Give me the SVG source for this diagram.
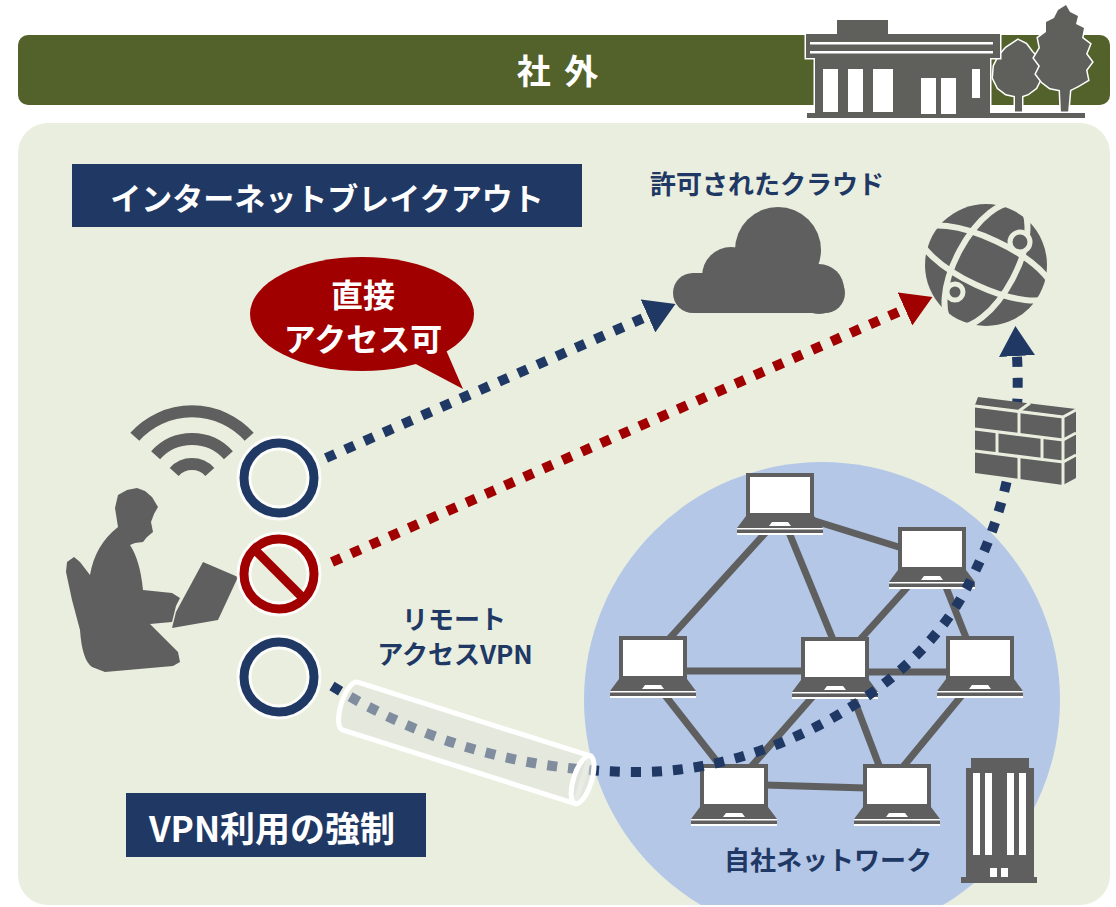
<svg xmlns="http://www.w3.org/2000/svg" xmlns:xlink="http://www.w3.org/1999/xlink" width="1116" height="907" viewBox="0 0 1116 907">
  <style>
    .jp { font-family: "Noto Sans CJK JP", "Noto Sans", sans-serif; font-weight: 700; dominant-baseline: central; text-anchor: middle; }
    .white { fill: #ffffff; }
    .navy { fill: #203864; }
    .icon { fill: #5f5f5f; }
    .net { stroke: #5f5f5f; stroke-width: 7; fill: none; }
    .dash { fill: none; stroke-width: 10; stroke-dasharray: 10 11; }
    .bgline { fill: none; stroke: #eaeedf; }
    .halo { fill: none; stroke: #ffffff; stroke-width: 15; stroke-opacity: 0.85; }
  </style>
  <defs>
    <clipPath id="panelClip">
      <rect x="18" y="123" width="1092" height="782" rx="30"/>
    </clipPath>
    <marker id="headNavy" markerUnits="userSpaceOnUse" viewBox="0 0 30 36" refX="0" refY="18" markerWidth="30" markerHeight="36" orient="auto">
      <path d="M0,0 L30,18 L0,36 Z" fill="#1f3864"/>
    </marker>
    <marker id="headRed" markerUnits="userSpaceOnUse" viewBox="0 0 30 36" refX="0" refY="18" markerWidth="30" markerHeight="36" orient="auto">
      <path d="M0,0 L30,18 L0,36 Z" fill="#a00000"/>
    </marker>
    <g id="laptop">
      <rect x="0" y="0" width="68" height="44" fill="#5f5f5f"/>
      <rect x="4" y="4" width="60" height="36" fill="#ffffff"/>
      <polygon points="0,43 68,43 77,55 -9,55" fill="#5f5f5f"/>
      <polygon points="26,49 42,49 45,53 23,53" fill="#ffffff"/>
      <rect x="-9" y="55" width="86" height="7" fill="#ffffff"/>
      <rect x="-9" y="56.5" width="86" height="3.5" fill="#5f5f5f"/>
    </g>
  </defs>

  <!-- header band -->
  <g id="header">
    <rect x="18" y="35" width="1092" height="70" rx="10" fill="#52622a"/>
    <text class="jp white" x="559" y="69" font-size="34" letter-spacing="3">社 外</text>
  </g>

  <!-- office building with trees -->
  <g id="office" fill="#5f605b" stroke="#ffffff" stroke-width="3" paint-order="stroke">
    <path d="M1018 40 L1026 44 L1032 52 L1038 58 L1042 68 L1040 80 L1036 88 L1028 94 L1022 96 L1022 113 L1015 113 L1015 96 L1006 94 L998 88 L993 78 L994 66 L999 56 L1006 48 Z"/>
    <path d="M1066 5 L1070 12 L1078 16 L1076 24 L1084 28 L1082 38 L1090 44 L1086 54 L1092 62 L1086 70 L1088 80 L1078 86 L1070 90 L1068 113 L1061 113 L1060 90 L1050 88 L1042 82 L1036 74 L1040 66 L1034 58 L1040 48 L1038 38 L1046 32 L1046 22 L1054 18 L1058 10 Z"/>
    <path d="M837 20 H888 V34 H1000 V58 H990 V113 H1085 V118 H807 V113 H815 V58 H806 V34 H837 Z"/>
  </g>
  <g fill="#ffffff">
    <rect x="810" y="42" width="183" height="2.5"/>
    <rect x="810" y="51" width="183" height="2.5"/>
    <rect x="823" y="69" width="15" height="43"/>
    <rect x="848" y="69" width="15" height="43"/>
    <rect x="873" y="69" width="20" height="43"/>
    <rect x="921" y="78" width="15" height="36"/>
    <rect x="941" y="78" width="15" height="36"/>
    <rect x="972" y="69" width="8" height="29"/>
  </g>

  <!-- main panel -->
  <rect id="panel" x="18" y="123" width="1092" height="782" rx="30" fill="#eaeedf"/>

  <!-- company network area -->
  <g id="company-network">
    <circle cx="822" cy="700" r="238" fill="#b4c7e7" clip-path="url(#panelClip)"/>
  </g>

  <!-- building beside the network -->
  <g id="hq" fill="#5f5f5f">
    <rect x="971" y="758" width="58" height="11"/>
    <rect x="966" y="768" width="68" height="110"/>
    <rect x="961" y="877" width="76" height="6"/>
    <g fill="#ffffff">
      <rect x="973" y="773" width="7" height="82"/>
      <rect x="985" y="773" width="7" height="82"/>
      <rect x="1007" y="773" width="7" height="82"/>
      <rect x="1019" y="773" width="7" height="82"/>
      <rect x="990" y="868" width="7" height="9"/>
      <rect x="1001" y="868" width="7" height="9"/>
    </g>
  </g>

  <!-- links between the PCs -->
  <g id="lan-links" class="net">
    <line x1="812" y1="520" x2="905" y2="549"/>
    <line x1="768" y1="530" x2="668" y2="640"/>
    <line x1="788" y1="530" x2="834" y2="642"/>
    <line x1="912" y1="582" x2="858" y2="642"/>
    <line x1="944" y1="582" x2="967" y2="640"/>
    <line x1="685" y1="671" x2="805" y2="671"/>
    <line x1="865" y1="672" x2="950" y2="672"/>
    <line x1="664" y1="694" x2="722" y2="768"/>
    <line x1="815" y1="694" x2="750" y2="768"/>
    <line x1="852" y1="694" x2="880" y2="768"/>
    <line x1="963" y1="694" x2="902" y2="768"/>
    <line x1="765" y1="785" x2="866" y2="788"/>
  </g>

  <g id="pc-1"><use xlink:href="#laptop" x="746" y="473"/></g>
  <g id="pc-2"><use xlink:href="#laptop" x="898" y="527"/></g>
  <g id="pc-3"><use xlink:href="#laptop" x="619" y="636"/></g>
  <g id="pc-4"><use xlink:href="#laptop" x="801" y="637"/></g>
  <g id="pc-5"><use xlink:href="#laptop" x="946" y="636"/></g>
  <g id="pc-6"><use xlink:href="#laptop" x="700" y="764"/></g>
  <g id="pc-7"><use xlink:href="#laptop" x="863" y="764"/></g>

  <!-- labels -->
  <g id="label-breakout">
    <rect x="72" y="164" width="510" height="63" fill="#203864"/>
    <text class="jp white" x="327" y="196" font-size="31">インターネットブレイクアウト</text>
  </g>
  <g id="label-vpn">
    <rect x="126" y="793" width="300" height="64" fill="#203864"/>
    <text class="jp white" x="272" y="826" font-size="35">VPN利用の強制</text>
  </g>
  <text class="jp navy" x="767" y="182" font-size="26">許可されたクラウド</text>
  <text class="jp navy" x="454" y="617" font-size="26">リモート</text>
  <text class="jp navy" x="455" y="652" font-size="26">アクセスVPN</text>
  <text class="jp navy" x="828" y="858" font-size="26">自社ネットワーク</text>

  <!-- remote worker -->
  <g id="user" class="icon">
    <g fill="none" stroke="#5f5f5f" stroke-width="12">
      <path d="M134.8 436.8 A77 77 0 0 1 249.2 436.8"/>
      <path d="M155.6 455.2 A49 49 0 0 1 228.4 455.2"/>
      <path d="M174.2 471.9 A24 24 0 0 1 209.8 471.9"/>
    </g>
    <path d="M137 488 L145 491 L152 497 L158 507 L154 514 L151 522 L153 532 L147 537 L143 542 L135 543 L130 545 Q140 560 143 590 L172 593 L180 598 L176 606 L172 622 L150 624 L178 652 L180 662 L173 666 L105 672 L92 667 Q82 660 80 630 L72 600 L66 572 L67 562 L74 557 L80 562 L90 575 Q95 545 118 527 L115 508 L118 495 L127 490 Z"/>
    <polygon points="203,562 238,577 218,620 172,628 176,612"/>
  </g>

  <!-- allowed / blocked markers -->
  <g id="ok-cloud">
    <circle class="halo" cx="279" cy="478" r="35"/>
    <circle cx="279" cy="478" r="35" fill="none" stroke="#1f3864" stroke-width="9"/>
  </g>
  <g id="ng-direct">
    <circle class="halo" cx="279" cy="574" r="35"/>
    <circle cx="279" cy="574" r="35" fill="none" stroke="#a00000" stroke-width="9"/>
    <line x1="254" y1="549" x2="304" y2="599" stroke="#a00000" stroke-width="9"/>
  </g>
  <g id="ok-vpn">
    <circle class="halo" cx="279" cy="677" r="35"/>
    <circle cx="279" cy="677" r="35" fill="none" stroke="#1f3864" stroke-width="9"/>
  </g>

  <!-- connectors -->
  <g id="connectors">
    <path class="dash" stroke="#1f3864" d="M326 458 L648 316" marker-end="url(#headNavy)"/>
    <path class="dash" stroke="#a00000" d="M332 562 L905 309" marker-end="url(#headRed)"/>
    <path class="dash" stroke="#1f3864" d="M332 686 C420 740 520 772 640 772 C760 772 900 700 960 600 C1000 530 1022 450 1017 356" marker-end="url(#headNavy)"/>
  </g>

  <!-- VPN tunnel -->
  <g id="tunnel" transform="translate(350 706) rotate(17.6)">
    <path d="M0 -25 L244 -25 L244 25 L0 25 A9 25 0 0 1 0 -25 Z" fill="#e0e2da" fill-opacity="0.5" stroke="#ffffff" stroke-width="5"/>
    <ellipse cx="244" cy="0" rx="9" ry="25" fill="#e0e2da" fill-opacity="0.7" stroke="#ffffff" stroke-width="5"/>
  </g>

  <!-- speech bubble -->
  <g id="bubble">
    <ellipse cx="362" cy="314" rx="112" ry="57" fill="#a00000"/>
    <path d="M412 362 L463 389 L446 350 Z" fill="#a00000"/>
    <text class="jp white" x="363" y="293" font-size="32">直接</text>
    <text class="jp white" x="363" y="337" font-size="32">アクセス可</text>
  </g>

  <!-- cloud service -->
  <g id="cloud" fill="#5f5f5f">
    <rect x="673" y="273" width="172" height="40" rx="20"/>
    <circle cx="731" cy="276" r="29"/>
    <circle cx="778" cy="250" r="43"/>
    <circle cx="819" cy="289" r="25"/>
  </g>

  <!-- internet globe -->
  <g id="internet">
    <circle cx="986" cy="265" r="61" fill="#5f5f5f"/>
    <ellipse class="bgline" stroke-width="6" cx="986" cy="263" rx="72" ry="24" transform="rotate(25 986 263)"/>
    <ellipse class="bgline" stroke-width="6" cx="986" cy="265" rx="68" ry="30" transform="rotate(-62 986 265)"/>
    <circle cx="1020" cy="242" r="10" fill="#5f5f5f" stroke="#eaeedf" stroke-width="5"/>
    <circle cx="955" cy="292" r="8" fill="#5f5f5f" stroke="#eaeedf" stroke-width="5"/>
  </g>

  <!-- firewall -->
  <g id="firewall" fill="#5f5f5f">
    <polygon points="978,397 1076,409 1063,416 975,405"/>
    <polygon points="975,406 1063,417 1063,485 975,473"/>
    <polygon points="1063,417 1076,410 1076,478 1063,485"/>
    <g class="bgline" stroke-width="3">
      <polyline points="975,406 1063,417 1076,410"/>
      <polyline points="975,429 1063,440 1076,433"/>
      <polyline points="975,451 1063,462 1076,455"/>
      <line x1="1063" y1="417" x2="1063" y2="485"/>
      <line x1="1019" y1="411" x2="1019" y2="434"/>
      <line x1="997" y1="432" x2="997" y2="454"/>
      <line x1="1042" y1="437" x2="1042" y2="459"/>
      <line x1="1019" y1="456" x2="1019" y2="480"/>
      <line x1="1019" y1="411" x2="1030" y2="403"/>
    </g>
  </g>
</svg>
